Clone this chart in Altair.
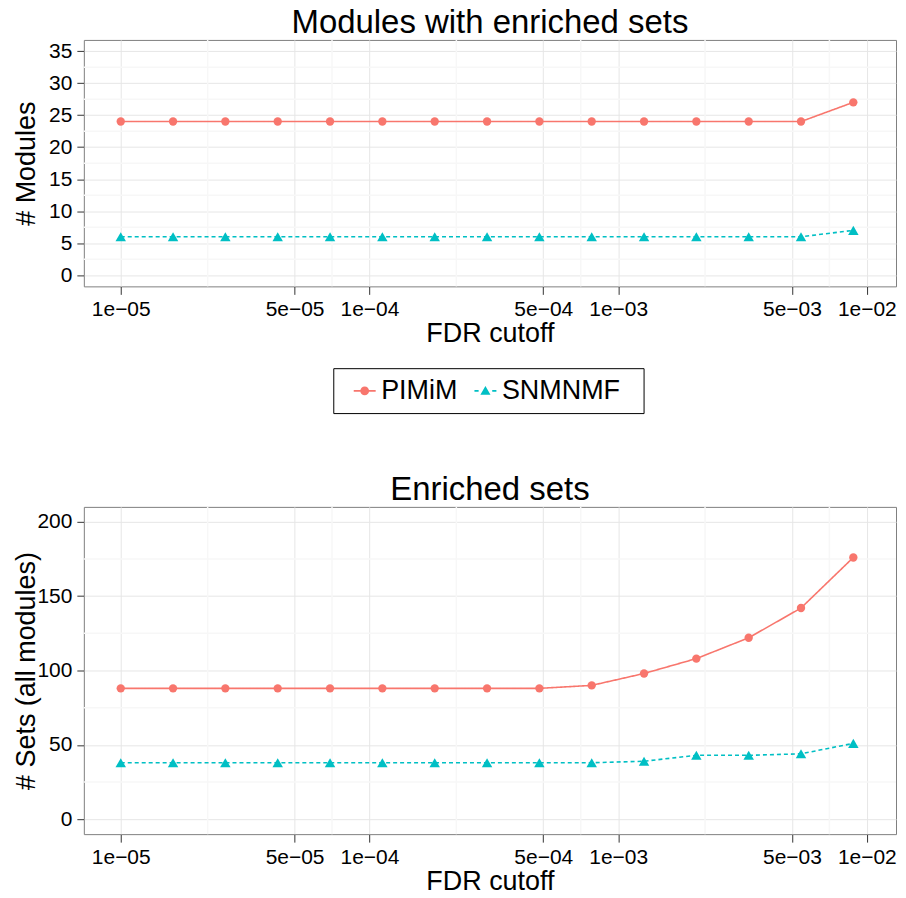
import json
import altair as alt
import pandas as pd

# ---------------- data ----------------
fdr_cutoff = [1.000e-05, 1.623e-05, 2.634e-05, 4.277e-05, 6.943e-05,
              1.127e-04, 1.830e-04, 2.971e-04, 4.823e-04, 7.829e-04,
              1.271e-03, 2.063e-03, 3.349e-03, 5.436e-03, 8.824e-03]
methods = ["PIMiM", "SNMNMF"]
colors = ["#F8766D", "#00BFC4"]
marker_shapes = ["circle", "triangle-up"]
marker_sizes = [70, 110]
dashes = [[1, 0], [4, 3]]

modules_pimim = [24, 24, 24, 24, 24, 24, 24, 24, 24, 24, 24, 24, 24, 24, 27]
modules_snmnmf = [6, 6, 6, 6, 6, 6, 6, 6, 6, 6, 6, 6, 6, 6, 7]
sets_pimim = [88, 88, 88, 88, 88, 88, 88, 88, 88, 90, 98, 108, 122, 142, 176]
sets_snmnmf = [38, 38, 38, 38, 38, 38, 38, 38, 38, 38, 39, 43, 43, 44, 51]

x_ticks = [1e-05, 5e-05, 1e-04, 5e-04, 1e-03, 5e-03, 1e-02]
x_tick_labels = ["1e\u221205", "5e\u221205", "1e\u221204", "5e\u221204",
                 "1e\u221203", "5e\u221203", "1e\u221202"]
x_minor = [2.236e-05, 7.071e-05, 2.236e-04, 7.071e-04, 2.236e-03, 7.071e-03]
x_domain = [7.105e-06, 1.31e-02]

mod_ticks = [0, 5, 10, 15, 20, 25, 30, 35]
mod_minor = [2.5, 7.5, 12.5, 17.5, 22.5, 27.5, 32.5]
mod_domain = [-1.75, 36.75]

set_ticks = [0, 50, 100, 150, 200]
set_minor = [25, 75, 125, 175]
set_domain = [-10, 210]

FONT = "Liberation Sans"

label_expr = "{}[indexof({}, datum.value)]".format(
    json.dumps(x_tick_labels, ensure_ascii=False), json.dumps(x_ticks))

# legend glyphs: line segment + marker (paths in the unit square)
glyph_paths = [
    "M-1,-0.08H-0.3V0.08H-1Z M0.3,-0.08H1V0.08H0.3Z "
    "M0.4,0A0.4,0.4 0 1,1 -0.4,0A0.4,0.4 0 1,1 0.4,0Z",
    "M-1,-0.08H-0.62V0.08H-1Z M0.62,-0.08H1V0.08H0.62Z "
    "M0,-0.44L0.46,0.36L-0.46,0.36Z",
]

legend = alt.Legend(
    title=" ", titleOrient="right", titleFontSize=1, titlePadding=15,
    orient="none", legendX=250, legendY=329,
    direction="horizontal", labelFont=FONT, labelFontSize=27,
    labelColor="black", symbolSize=484, symbolOffset=9, labelOffset=3,
    columnPadding=5,
    padding=9, strokeColor="black", fillColor="white",
    symbolStrokeWidth=0, symbolOpacity=1,
)

TITLE_X = -49.5


def panel(a, b, title, ytitle, width, height, ydomain, yticks, yminor, show_legend):
    x_enc = alt.X("fdr:Q",
                  scale=alt.Scale(type="log", domain=x_domain, nice=False, zero=False),
                  axis=alt.Axis(values=x_ticks, labelExpr=label_expr, title="FDR cutoff",
                                tickSize=8, labelPadding=4, titlePadding=1))
    y_enc = alt.Y("value:Q",
                  scale=alt.Scale(domain=ydomain, nice=False, zero=False),
                  axis=alt.Axis(values=yticks, title=ytitle, tickSize=7, labelPadding=5,
                                titleAngle=270, titleBaseline="alphabetic",
                                titleAlign="center", titleX=TITLE_X, titleY=height / 2))

    layers = [
        alt.Chart(pd.DataFrame({"fdr": x_minor})).mark_rule(
            color="#F7F7F7", strokeWidth=1.5).encode(x=x_enc),
        alt.Chart(pd.DataFrame({"value": yminor})).mark_rule(
            color="#F7F7F7", strokeWidth=1.5).encode(y=y_enc),
    ]
    for i, vals in enumerate([a, b]):
        df = pd.DataFrame({"fdr": fdr_cutoff, "value": vals})
        layers.append(alt.Chart(df).mark_line(
            color=colors[i], strokeDash=dashes[i], strokeWidth=1.6).encode(x=x_enc, y=y_enc))
        layers.append(alt.Chart(df).mark_point(
            color=colors[i], shape=marker_shapes[i], filled=True, opacity=1,
            size=marker_sizes[i]
        ).encode(x=x_enc, y=y_enc))
    if show_legend:
        layers.append(
            alt.Chart(pd.DataFrame({"method": methods})).transform_filter("false")
            .mark_point(filled=True, opacity=1)
            .encode(
                color=alt.Color("method:N", scale=alt.Scale(domain=methods, range=colors),
                                legend=legend),
                shape=alt.Shape("method:N", scale=alt.Scale(domain=methods, range=glyph_paths),
                                legend=legend),
            )
        )
    return alt.layer(*layers).properties(
        width=width, height=height,
        title=alt.TitleParams(title, font=FONT, fontSize=33, fontWeight="normal",
                              color="black", offset=-1),
    )


top = panel(modules_pimim, modules_snmnmf, "Modules with enriched sets", "# Modules",
            814, 247, mod_domain, mod_ticks, mod_minor, True)
bottom = panel(sets_pimim, sets_snmnmf, "Enriched sets", "# Sets (all modules)",
               814, 328, set_domain, set_ticks, set_minor, False)

chart = alt.concat(top, bottom, columns=1, align="none", spacing=59).resolve_scale(
    color="independent", shape="independent"
).resolve_legend(
    color="independent", shape="independent"
).properties(
    padding={"left": 4, "top": -3, "right": 0, "bottom": 0}
).configure_view(
    stroke="#7F7F7F", strokeWidth=1
).configure_axis(
    domain=False, grid=True, gridColor="#E6E6E6", gridWidth=1,
    tickColor="#333333", tickWidth=1,
    labelFont=FONT, labelFontSize=21, labelColor="black",
    titleFont=FONT, titleFontSize=27, titleFontWeight="normal", titleColor="black",
)

chart.save("out.html", embed_options={"renderer": "svg", "actions": False})
